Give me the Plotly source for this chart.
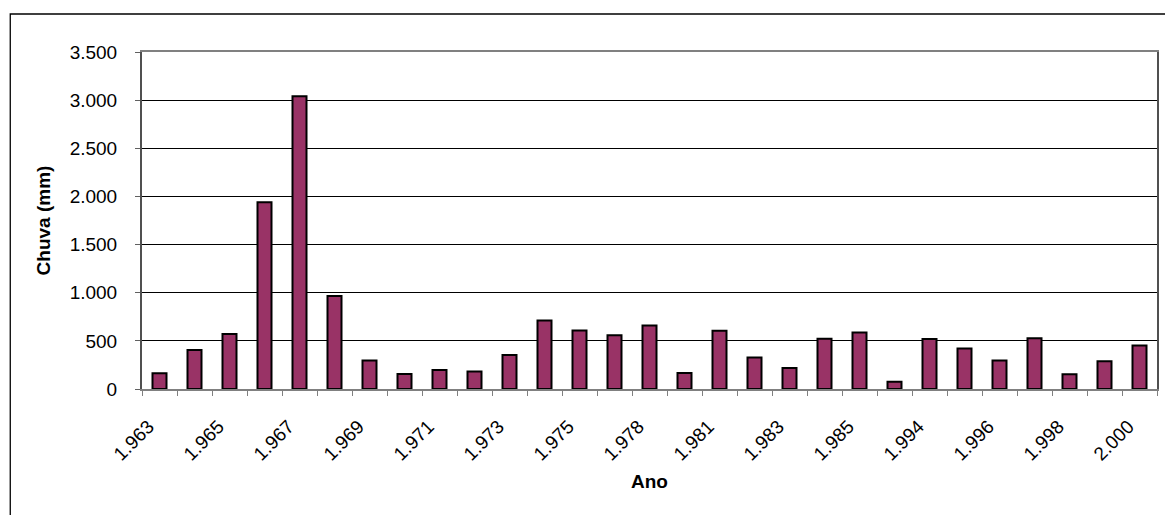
import plotly.graph_objects as go

anos = ["1.963", "1.964", "1.965", "1.966", "1.967", "1.968", "1.969", "1.970",
        "1.971", "1.972", "1.973", "1.974", "1.975", "1.976", "1.978", "1.979",
        "1.981", "1.982", "1.983", "1.984", "1.985", "1.986", "1.994", "1.995",
        "1.996", "1.997", "1.998", "1.999", "2.000"]
chuva = [163, 405, 572, 1940, 3040, 965, 295, 157, 198, 183, 352, 712, 607,
         559, 660, 166, 604, 328, 217, 522, 588, 74, 520, 420, 295, 526, 152,
         287, 451]
rotulos = [a if i % 2 == 0 else "" for i, a in enumerate(anos)]

W, H = 1165, 515
L, R, T, B = 142, 6, 52, 126
pw, ph = W - L - R, H - T - B

fig = go.Figure(go.Bar(
    x=anos, y=chuva,
    marker=dict(color="#993366", line=dict(color="black", width=2)),
))

font = "Arial, Liberation Sans, sans-serif"
fig.update_layout(
    width=W, height=H,
    margin=dict(l=L, r=R, t=T, b=B),
    paper_bgcolor="white", plot_bgcolor="white",
    bargap=0.6,
    separators=",.",
    showlegend=False,
    font=dict(family=font, size=19, color="black"),
    xaxis=dict(
        type="category", tickmode="array", tickvals=anos, ticktext=rotulos,
        tickson="boundaries", ticks="outside", ticklen=5, tickcolor="#808080",
        tickangle=-45, showgrid=False, showline=True, linecolor="#808080",
        linewidth=2, mirror=True, range=[-0.5, len(anos) - 0.5],
        ticklabelstandoff=17, ticklabelshift=-11,
        title=dict(text="<b>Ano</b>", font=dict(size=19), standoff=11),
    ),
    yaxis=dict(
        range=[0, 3500], dtick=500, tickformat=",d", ticks="outside",
        ticklen=5, tickcolor="#606060", showgrid=True, gridcolor="black",
        gridwidth=1, showline=True, linecolor="#505050", linewidth=2,
        mirror=True, zeroline=False, ticklabelstandoff=14,
        title=dict(text="<b>Chuva (mm)</b>", font=dict(size=19), standoff=14),
    ),
    shapes=[dict(type="rect", xref="paper", yref="paper",
                 x0=(10 - L) / pw, x1=(W + 10 - L) / pw,
                 y0=(H - B - (H + 10)) / ph, y1=(H - B - 14) / ph,
                 line=dict(color="black", width=1.3), layer="below")],
)

fig.write_html("out.html")
